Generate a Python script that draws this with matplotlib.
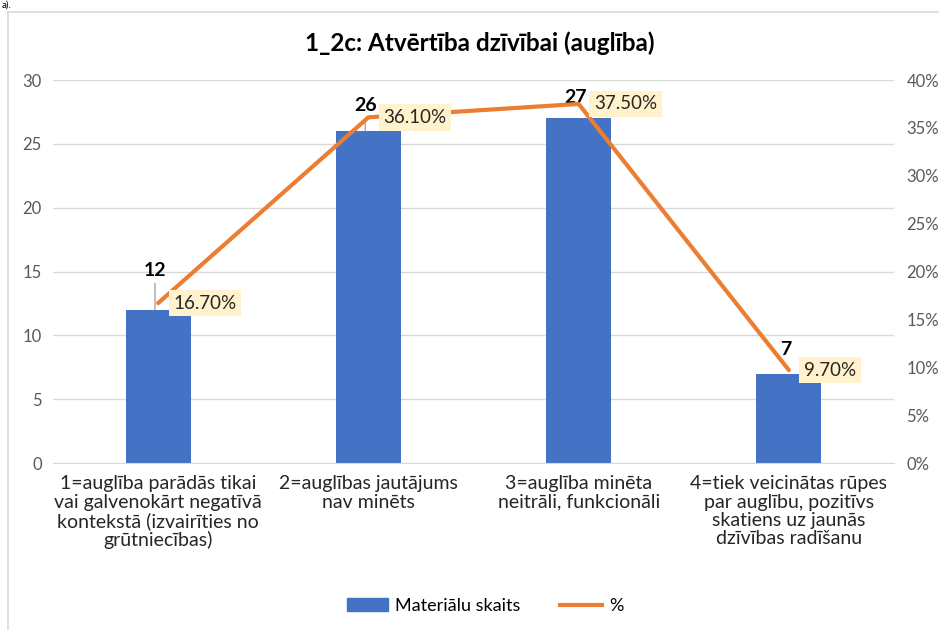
import matplotlib.pyplot as plt
from matplotlib.patches import Rectangle, Patch
from matplotlib.lines import Line2D

plt.rcParams['font.family'] = ['Lato', 'DejaVu Sans']

# chart data
categories = [
    "1=auglība parādās tikai\nvai galvenokārt negatīvā\nkontekstā (izvairīties no\ngrūtniecības)",
    "2=auglības jautājums\nnav minēts",
    "3=auglība minēta\nneitrāli, funkcionāli",
    "4=tiek veicinātas rūpes\npar auglību, pozitīvs\nskatiens uz jaunās\ndzīvības radīšanu",
]
counts = [12, 26, 27, 7]
percents = [16.7, 36.1, 37.5, 9.7]
left_ticks = [0, 5, 10, 15, 20, 25, 30]
right_ticks = [0, 5, 10, 15, 20, 25, 30, 35, 40]

title = "1_2c: Atvērtība dzīvībai (auglība)"
bar_name = "Materiālu skaits"
line_name = "%"

BLUE = "#4472C4"
ORANGE = "#ED7D31"
GRID = "#D9D9D9"
TXT = "#595959"

fig = plt.figure(figsize=(9.39, 6.3), dpi=100)
ax = fig.add_axes([53 / 939, 1 - 463 / 630, 841 / 939, 383 / 630])
ax2 = ax.twinx()

x = list(range(len(categories)))
ax.bar(x, counts, width=0.31, color=BLUE, zorder=2)
ax.set_ylim(0, 30)
ax.set_xlim(-0.5, 3.5)
ax.set_yticks(left_ticks)
ax.grid(axis='y', color=GRID, linewidth=1, zorder=0)
ax.set_xticks(x)
ax.set_xticklabels(categories, fontsize=14, color="#262626", linespacing=1.08)
ax.tick_params(axis='x', length=0, pad=9)
ax.tick_params(axis='y', length=0, labelsize=12, labelcolor=TXT, pad=8)
for s in ['top', 'right', 'left']:
    ax.spines[s].set_visible(False)
ax.spines['bottom'].set_color(GRID)

ax2.plot(x, percents, color=ORANGE, linewidth=3, zorder=3, solid_capstyle='round')
ax2.set_ylim(0, 40)
ax2.set_yticks(right_ticks)
ax2.set_yticklabels([f"{t}%" for t in right_ticks])
ax2.tick_params(axis='y', length=0, labelsize=12, labelcolor=TXT, pad=9)
for s in ['top', 'right', 'left', 'bottom']:
    ax2.spines[s].set_visible(False)

# count labels above bars
offsets = [22, 12, 9, 11]
for i, c in enumerate(counts):
    ax.annotate(str(c), xy=(i - 0.015, c), xytext=(0, offsets[i]),
                textcoords='offset points', ha='center', va='bottom',
                fontsize=14, fontweight='bold', color='black', zorder=5,
                arrowprops=dict(arrowstyle='-', color='#A6A6A6', lw=1,
                                shrinkA=1, shrinkB=0) if i < 2 else None)

# percent labels
for i, p in enumerate(percents):
    ax2.annotate(f"{p:.2f}%", xy=(i, p), xytext=(11, 0),
                 textcoords='offset points', ha='left', va='center',
                 fontsize=13.5, color='#262626', zorder=6,
                 bbox=dict(boxstyle='square,pad=0.25', fc='#FFF2CC', ec='none'))

fig.text(480 / 939, 1 - 43 / 630, title, ha='center', va='center',
         fontsize=17.5, fontweight='bold', color='black')

handles = [Patch(color=BLUE, label=bar_name),
           Line2D([0], [0], color=ORANGE, lw=3, label=line_name)]
fig.legend(handles=handles, loc='center', bbox_to_anchor=(485 / 939, 1 - 606 / 630),
           ncol=2, frameon=False, fontsize=13, handlelength=2.3, columnspacing=2.2,
           handletextpad=0.4)

# chart frame
fig.patches.append(Rectangle((8 / 939, -0.1), 1.1, 1 - 12 / 630 + 0.1,
                             transform=fig.transFigure, fill=False,
                             ec=GRID, lw=1.2))
fig.text(0.002, 0.999, "a).", ha='left', va='top', fontsize=7, color='black')

fig.savefig("out.png", dpi=100)
